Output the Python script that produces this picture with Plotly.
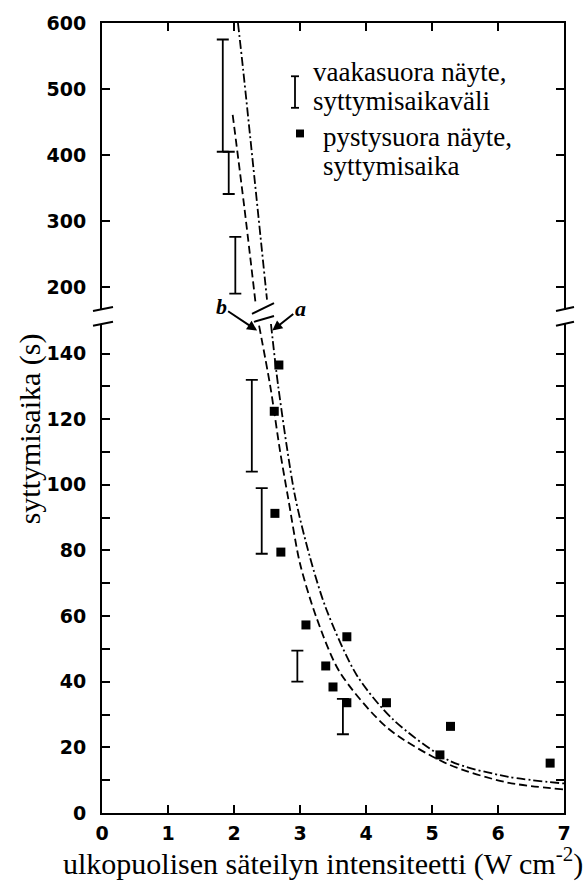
import plotly.graph_objects as go

# ---------------- data ----------------
# horizontal samples: ignition-time ranges (bars)
bar_x_upper = [1.83, 1.92, 2.02]
bar_lo_upper = [405, 341, 190]
bar_hi_upper = [575, 405, 276]
bar_x_lower = [2.27, 2.42, 2.96, 3.65]
bar_lo_lower = [104, 79, 40, 24]
bar_hi_lower = [132, 99, 49.5, 34.8]

# vertical samples: ignition times (squares)
sq_x = [2.68, 2.61, 2.62, 2.71, 3.09, 3.71, 3.39, 3.50, 3.71, 4.31, 5.28, 5.12, 6.79]
sq_y = [136.5, 122.4, 91.3, 79.5, 57.3, 53.7, 44.8, 38.4, 33.6, 33.6, 26.4, 17.7, 15.2]

# curve a (dash-dot)
a_x_upper = [2.06, 2.14, 2.50]
a_y_upper = [600, 528, 181]
a_x_lower = [2.56, 2.67, 2.92, 3.15, 3.40, 3.86, 4.41, 5.27, 6.14, 7.0]
a_y_lower = [149, 130, 97, 78, 62, 42, 28.5, 15.9, 11.1, 9.0]

# curve b (dashed)
b_x_upper = [1.98, 2.16, 2.33]
b_y_upper = [461, 318, 173]
b_x_lower = [2.38, 2.55, 2.70, 2.82, 3.0, 3.25, 3.60, 4.32, 5.23, 6.14, 7.0]
b_y_lower = [148.5, 130, 110, 96, 76, 59.5, 43, 26, 15, 9.3, 7.2]

x_ticks = [0, 1, 2, 3, 4, 5, 6, 7]
y_low_ticks = list(range(0, 150, 20))
y_low_minor = list(range(10, 150, 20))
y_up_ticks = [200, 300, 400, 500, 600]

legend_lines_1 = ["vaakasuora näyte,", "syttymisaikaväli"]
legend_lines_2 = ["pystysuora näyte,", "syttymisaika"]
x_title = "ulkopuolisen säteilyn intensiteetti (W cm<sup>-2</sup>)"
y_title = "syttymisaika (s)"

# ---------------- figure ----------------
W, H = 587, 888
ML, MR, MT, MB = 102, 23, 12, 75
PW, PH = W - ML - MR, H - MT - MB


def px(xp):
    return (xp - ML) / PW


def py(yp):
    return (H - MB - yp) / PH


fig = go.Figure()
ink = "black"


def bars(xs, lo, hi, yaxis):
    fig.add_trace(go.Scatter(
        x=xs, y=lo, yaxis=yaxis, mode="markers",
        marker=dict(size=1, color="rgba(0,0,0,0)"),
        error_y=dict(type="data", symmetric=False,
                     array=[h - l for h, l in zip(hi, lo)],
                     arrayminus=[0] * len(lo),
                     color=ink, thickness=1.8, width=6),
        showlegend=False, hoverinfo="skip"))


bars(bar_x_upper, bar_lo_upper, bar_hi_upper, "y2")
bars(bar_x_lower, bar_lo_lower, bar_hi_lower, "y")

dash_b = "8px,4px"
dash_a = "9px,3px,2px,3px"
for xs, ys, ax, dsh in [(a_x_upper, a_y_upper, "y2", dash_a),
                        (a_x_lower, a_y_lower, "y", dash_a),
                        (b_x_upper, b_y_upper, "y2", dash_b),
                        (b_x_lower, b_y_lower, "y", dash_b)]:
    fig.add_trace(go.Scatter(x=xs, y=ys, yaxis=ax, mode="lines",
                             line=dict(color=ink, width=1.8, dash=dsh, shape="spline", smoothing=0.8),
                             showlegend=False, hoverinfo="skip"))

fig.add_trace(go.Scatter(x=sq_x, y=sq_y, yaxis="y", mode="markers",
                         marker=dict(symbol="square", size=9, color=ink),
                         showlegend=False))

# dummy trace to activate the top axis
fig.add_trace(go.Scatter(x=[None], y=[None], xaxis="x2", yaxis="y2", showlegend=False))

tickfont = dict(family="DejaVu Sans", size=19, color=ink, weight="bold")

fig.update_layout(
    width=W, height=H,
    margin=dict(l=ML, r=MR, t=MT, b=MB),
    paper_bgcolor="white", plot_bgcolor="white",
    showlegend=False,
    xaxis=dict(range=[0, 7], tickvals=x_ticks, ticks="inside", ticklen=8, tickwidth=1.5,
               tickcolor=ink, showline=True, linecolor=ink, linewidth=2, showgrid=False,
               zeroline=False, tickfont=tickfont, anchor="y", ticklabelstandoff=2),
    xaxis2=dict(range=[0, 7], tickvals=x_ticks, ticks="inside", ticklen=8, tickwidth=1.5,
                tickcolor=ink, showline=True, linecolor=ink, linewidth=2, showgrid=False,
                zeroline=False, showticklabels=False, anchor="y2", side="top",
                overlaying="x", matches="x"),
    yaxis=dict(domain=[0, 0.619], range=[0, 149], tickmode="array", tickvals=y_low_ticks,
               ticks="inside", ticklen=8, tickwidth=1.5, tickcolor=ink,
               minor=dict(tickmode="array", tickvals=y_low_minor, ticks="inside", ticklen=8,
                          tickwidth=1.5, tickcolor=ink, showgrid=False),
               showline=True, linecolor=ink, linewidth=2, mirror="ticks", showgrid=False,
               zeroline=False, tickfont=tickfont, ticklabelstandoff=10),
    yaxis2=dict(domain=[0.637, 1], range=[165.7, 600], tickmode="array", tickvals=y_up_ticks,
                ticks="inside", ticklen=8, tickwidth=1.5, tickcolor=ink,
                showline=True, linecolor=ink, linewidth=2, mirror="ticks", showgrid=False,
                zeroline=False, tickfont=tickfont, ticklabelstandoff=10, anchor="x"),
)

shapes = []
# axis break marks (left and right)
for x0, x1 in [(93, 113), (556, 574)]:
    shapes.append(dict(type="line", xref="paper", yref="paper", x0=px(x0), x1=px(x1),
                       y0=py(304), y1=py(300), line=dict(color=ink, width=2)))
    shapes.append(dict(type="line", xref="paper", yref="paper", x0=px(x0), x1=px(x1),
                       y0=py(319), y1=py(315), line=dict(color=ink, width=2)))
# break marks on curves
shapes.append(dict(type="line", xref="paper", yref="paper", x0=px(252), x1=px(274),
                   y0=py(307), y1=py(296), line=dict(color=ink, width=2)))
shapes.append(dict(type="line", xref="paper", yref="paper", x0=px(254), x1=px(274),
                   y0=py(315), y1=py(309), line=dict(color=ink, width=2)))
# legend icons
shapes.append(dict(type="line", xref="paper", yref="paper", x0=px(295), x1=px(295),
                   y0=py(66), y1=py(98), line=dict(color=ink, width=1.8)))
for yy in (66, 98):
    shapes.append(dict(type="line", xref="paper", yref="paper", x0=px(291), x1=px(299),
                       y0=py(yy), y1=py(yy), line=dict(color=ink, width=1.8)))
shapes.append(dict(type="rect", xref="paper", yref="paper", x0=px(296), x1=px(304),
                   y0=py(128), y1=py(120), fillcolor=ink, line=dict(width=0)))
fig.update_layout(shapes=shapes)

serif = "Liberation Serif"
ann = []
for txt, xx, yy in [(legend_lines_1[0], 311, 62), (legend_lines_1[1], 311, 91),
                    (legend_lines_2[0], 321, 128), (legend_lines_2[1], 321, 157)]:
    ann.append(dict(text=txt, xref="paper", yref="paper", x=px(xx), y=py(yy),
                    xanchor="left", yanchor="middle", align="left", showarrow=False,
                    font=dict(family=serif, size=27, color=ink)))
ann += [
    dict(text=y_title, xref="paper", yref="paper", x=px(30), y=py(424), textangle=-90,
         xanchor="center", yanchor="middle", showarrow=False,
         font=dict(family=serif, size=30, color=ink)),
    dict(text=x_title, xref="paper", yref="paper", x=px(323), y=py(862),
         xanchor="center", yanchor="middle", showarrow=False,
         font=dict(family=serif, size=30, color=ink)),
    dict(text="<b><i>b</i></b>", x=2.35, y=147, xref="x", yref="y", ax=-36, ay=-24,
         showarrow=True, arrowhead=2, arrowsize=1, arrowwidth=2, arrowcolor=ink,
         font=dict(family=serif, size=22, color=ink)),
    dict(text="<b><i>a</i></b>", x=2.58, y=147, xref="x", yref="y", ax=28, ay=-22,
         showarrow=True, arrowhead=2, arrowsize=1, arrowwidth=2, arrowcolor=ink,
         font=dict(family=serif, size=22, color=ink)),
]
fig.update_layout(annotations=ann)

fig.write_html("out.html")
